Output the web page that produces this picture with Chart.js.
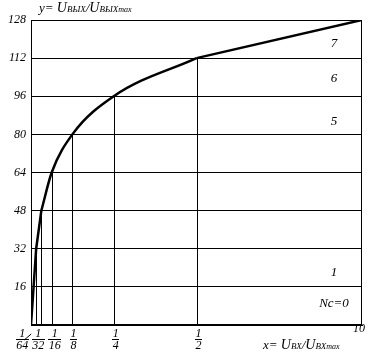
<!DOCTYPE html>
<html>
<head>
<meta charset="utf-8">
<script src="https://cdn.jsdelivr.net/npm/chart.js@4"></script>
<style>
html,body{margin:0;padding:0;background:#fff;}
#wrap{width:377px;height:359px;position:relative;}
</style>
</head>
<body>
<div id="wrap"><canvas id="c" width="377" height="359"></canvas></div>
<script>
// ---- data ----
const inputX  = [0, 1/128, 1/64, 1/32, 1/16, 1/8, 1/4, 1/2, 1];
const outputY = [0, 16, 32, 48, 64, 80, 96, 112, 128];
const fracTickX   = [1/64, 1/32, 1/16, 1/8, 1/4, 1/2];
const fracTickNum = ['1', '1', '1', '1', '1', '1'];
const fracTickDen = ['64', '32', '16', '8', '4', '2'];
const dropLineY   = [32, 48, 64, 80, 96, 112];
const endTickLabel = '10';
const segmentLabels = ['7', '6', '5', '1', 'Nc=0'];
const segmentLabelY = [118.3, 103.6, 85.2, 21.8, 9.2];
const yMax = 128, yStep = 16;

const SERIF = '"Liberation Serif", "DejaVu Serif", serif';

const curvePts = inputX.map((x, i) => ({x, y: outputY[i]}));
const lowPart = curvePts.slice(0, 4);
const smoothPart = curvePts.slice(3, 8);
const straightPart = curvePts.slice(7);

const overlay = {
  id: 'overlay',
  afterDraw(chart) {
    const ctx = chart.ctx, a = chart.chartArea;
    const xs = chart.scales.x, ys = chart.scales.y;
    ctx.save();
    ctx.strokeStyle = '#000';
    ctx.fillStyle = '#000';
    ctx.lineWidth = 1;
    // frame
    ctx.strokeRect(Math.round(a.left) + 0.5, Math.round(a.top) + 0.5,
                   Math.round(a.right - a.left) - 1, Math.round(a.bottom - a.top) - 1);
    // drop lines
    fracTickX.forEach((v, i) => {
      const px = Math.round(xs.getPixelForValue(v)) + 0.5;
      ctx.beginPath();
      ctx.moveTo(px, a.bottom);
      ctx.lineTo(px, ys.getPixelForValue(dropLineY[i]));
      ctx.stroke();
    });
    // fraction labels
    ctx.font = 'italic 12px ' + SERIF;
    ctx.textAlign = 'center';
    ctx.textBaseline = 'middle';
    const shifts = [-14, -3, 3, 1, 2, 2];
    fracTickX.forEach((v, i) => {
      const cx = xs.getPixelForValue(v) + shifts[i];
      ctx.fillText(fracTickNum[i], cx, a.bottom + 9);
      ctx.fillText(fracTickDen[i], cx, a.bottom + 21);
      const w = ctx.measureText(fracTickDen[i]).width + 1;
      ctx.fillRect(Math.round(cx - w / 2), a.bottom + 14, Math.round(w), 1);
    });
    // leader line for 1/64
    ctx.beginPath();
    ctx.moveTo(xs.getPixelForValue(1/64) - 12, a.bottom + 15);
    ctx.lineTo(xs.getPixelForValue(1/64) - 5, a.bottom + 9);
    ctx.stroke();
    // end tick label
    ctx.textAlign = 'right';
    ctx.fillText(endTickLabel, xs.getPixelForValue(1) + 3, a.bottom + 4);
    // segment labels
    ctx.font = 'italic 13px ' + SERIF;
    ctx.textAlign = 'center';
    segmentLabels.forEach((t, i) => {
      ctx.fillText(t, a.right - 28, ys.getPixelForValue(segmentLabelY[i]));
    });
    // axis titles
    function title(parts, x, y) {
      ctx.textAlign = 'left';
      ctx.textBaseline = 'alphabetic';
      parts.forEach(p => {
        ctx.font = 'italic ' + p[1] + 'px ' + SERIF;
        ctx.fillText(p[0], x, y + (p[2] || 0));
        x += ctx.measureText(p[0]).width;
      });
    }
    title([['y= ', 13], ['U', 14], ['ВЫХ', 9], ['/', 13], ['U', 14], ['ВЫХ', 9], ['max', 8]], 39, 12);
    title([['x= ', 13], ['U', 14], ['ВХ', 9], ['/', 13], ['U', 14], ['ВХ', 9], ['max', 8]], 263, 349);
    ctx.restore();
  }
};

const lineStyle = {showLine: true, borderColor: '#000', borderWidth: 2.5, pointRadius: 0, fill: false};

new Chart(document.getElementById('c'), {
  type: 'scatter',
  data: {
    datasets: [
      Object.assign({data: lowPart, tension: 0}, lineStyle),
      Object.assign({data: smoothPart, cubicInterpolationMode: 'monotone'}, lineStyle),
      Object.assign({data: straightPart, tension: 0}, lineStyle)
    ]
  },
  options: {
    responsive: false,
    animation: false,
    events: [],
    layout: {padding: {top: 20, right: 15, left: 0, bottom: 0}},
    plugins: {legend: {display: false}, tooltip: {enabled: false}},
    scales: {
      x: {
        type: 'linear', min: 0, max: 1,
        grid: {display: false},
        border: {display: true, color: '#000', width: 1},
        ticks: {display: false},
        afterFit(s) { s.height = 34; }
      },
      y: {
        type: 'linear', min: 0, max: yMax,
        grid: {color: '#000', lineWidth: 1, drawTicks: false},
        border: {display: true, color: '#000', width: 1},
        ticks: {
          stepSize: yStep, padding: 5, color: '#000',
          font: {family: SERIF, size: 12, style: 'italic'},
          callback: v => v === 0 ? '' : String(v)
        },
        afterFit(s) { s.width = 31; }
      }
    }
  },
  plugins: [overlay]
});
</script>
</body>
</html>
